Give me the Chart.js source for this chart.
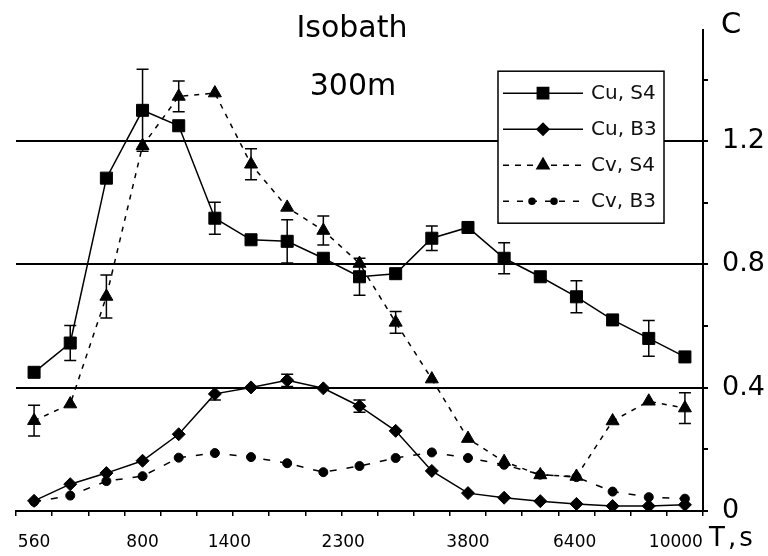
<!DOCTYPE html>
<html>
<head>
<meta charset="utf-8">
<script src="https://cdn.jsdelivr.net/npm/chart.js@4.4.1/dist/chart.umd.min.js"></script>
<style>
  html, body { margin: 0; padding: 0; background: #fff; }
  canvas { display: block; }
</style>
</head>
<body>
<canvas id="isobathChart" width="768" height="556"></canvas>
<script>
// measurement steps along the period axis
const steps = [0, 1, 2, 3, 4, 5, 6, 7, 8, 9, 10, 11, 12, 13, 14, 15, 16, 17, 18];

// period labels (T, s) and the step each one is printed under
const periodLabels = ['560', '800', '1400', '2300', '3800', '6400', '10000'];
const periodLabelAt = [0, 3, 5.4, 8.55, 12, 14.95, 17.75];

// concentration axis
const concTicks = [0, 0.2, 0.4, 0.6, 0.8, 1.0, 1.2, 1.4];
const concLabels = ['0', '0.4', '0.8', '1.2'];

const cuS4 = [0.45, 0.545, 1.08, 1.30, 1.25, 0.95, 0.88, 0.875, 0.82, 0.76, 0.77, 0.885, 0.92, 0.82, 0.76, 0.695, 0.62, 0.56, 0.50];
const cuS4Err = [null, 0.057, null, 0.133, null, 0.052, null, 0.07, null, 0.06, null, 0.04, null, 0.05, null, 0.052, null, 0.058, null];

const cuB3 = [0.033, 0.087, 0.123, 0.163, 0.249, 0.38, 0.401, 0.424, 0.398, 0.34, 0.26, 0.13, 0.058, 0.043, 0.032, 0.023, 0.016, 0.016, 0.02];
const cuB3Err = [null, null, null, null, null, 0.02, null, 0.02, null, 0.02, null, null, null, null, null, null, null, null, null];

const cvS4 = [0.293, 0.347, 0.696, 1.185, 1.345, 1.356, 1.125, 0.985, 0.91, 0.803, 0.612, 0.428, 0.235, 0.16, 0.117, 0.112, 0.292, 0.356, 0.334];
const cvS4Err = [0.05, null, 0.07, null, 0.05, null, 0.05, null, 0.047, null, 0.035, null, null, null, null, null, null, null, 0.05];

const cvB3 = [0.03, 0.05, 0.097, 0.113, 0.173, 0.188, 0.175, 0.155, 0.126, 0.146, 0.172, 0.19, 0.172, 0.15, 0.118, 0.11, 0.063, 0.045, 0.04];

const FONT = "'DejaVu Sans', sans-serif";

function series(values) {
    return steps.map((s, i) => ({ x: s, y: values[i] }));
}

function near(a, b) {
    return Math.abs(a - b) < 1e-6;
}

// vertical error bars with flat caps
const errorBars = {
    id: 'errorBars',
    afterDatasetsDraw(chart) {
        const { ctx } = chart;
        const x = chart.scales.x;
        const y = chart.scales.y;
        ctx.save();
        ctx.strokeStyle = '#000';
        ctx.lineWidth = 1.5;
        chart.data.datasets.forEach(ds => {
            if (!ds.errors) return;
            ds.errors.forEach((e, i) => {
                if (e == null) return;
                const px = x.getPixelForValue(ds.data[i].x);
                const top = y.getPixelForValue(ds.data[i].y + e);
                const bot = y.getPixelForValue(ds.data[i].y - e);
                ctx.beginPath();
                ctx.moveTo(px, top);
                ctx.lineTo(px, bot);
                ctx.moveTo(px - 6, top);
                ctx.lineTo(px + 6, top);
                ctx.moveTo(px - 6, bot);
                ctx.lineTo(px + 6, bot);
                ctx.stroke();
            });
        });
        ctx.restore();
    }
};

// title, axis names and the boxed legend
const decorations = {
    id: 'decorations',
    afterDraw(chart) {
        const { ctx, chartArea } = chart;
        ctx.save();
        ctx.fillStyle = '#000';
        ctx.textBaseline = 'alphabetic';

        ctx.font = `30px ${FONT}`;
        ctx.textAlign = 'center';
        ctx.fillText('Isobath', 352, 37);
        ctx.fillText('300m', 353, 95);

        ctx.textAlign = 'left';
        ctx.font = `29px ${FONT}`;
        ctx.fillText('C', 721, 33);
        ctx.font = `26px ${FONT}`;
        if ('letterSpacing' in ctx) ctx.letterSpacing = '3px';
        ctx.fillText('T,s', 709, 546);
        if ('letterSpacing' in ctx) ctx.letterSpacing = '0px';

        // legend box
        const bx = chartArea.right - 205;
        const by = chartArea.top + 41;
        const bw = 166;
        const bh = 152;
        ctx.fillStyle = '#fff';
        ctx.fillRect(bx, by, bw, bh);
        ctx.strokeStyle = '#000';
        ctx.lineWidth = 1.5;
        ctx.strokeRect(bx, by, bw, bh);

        const drawPoint = Chart.helpers.drawPoint;
        chart.data.datasets.forEach((ds, i) => {
            const cy = by + 22 + i * 36;
            const x0 = bx + 5;
            const x1 = bx + 85;
            const mx = (x0 + x1) / 2;
            ctx.strokeStyle = '#000';
            ctx.fillStyle = '#000';
            ctx.lineWidth = 1.5;
            ctx.setLineDash(ds.legendDash || ds.borderDash || []);
            ctx.beginPath();
            ctx.moveTo(x0, cy);
            ctx.lineTo(x1, cy);
            ctx.stroke();
            ctx.setLineDash([]);
            const marks = ds.legendMarks || [0];
            marks.forEach(dx => {
                drawPoint(ctx, {
                    pointStyle: ds.pointStyle,
                    radius: ds.legendRadius || ds.pointRadius,
                    rotation: 0,
                    borderWidth: 1
                }, mx + dx, cy);
            });
            ctx.fillStyle = '#111';
            ctx.font = `20px ${FONT}`;
            ctx.textAlign = 'left';
            ctx.textBaseline = 'middle';
            ctx.fillText(ds.label, bx + 93, cy + 1);
        });
        ctx.restore();
    }
};

function lineSet(label, values, errors, style, radius, dash) {
    return {
        label: label,
        data: series(values),
        errors: errors,
        borderColor: '#000',
        borderWidth: 1.5,
        borderDash: dash,
        backgroundColor: '#000',
        pointStyle: style,
        pointRadius: radius,
        pointBackgroundColor: '#000',
        pointBorderColor: '#000',
        pointBorderWidth: 1,
        tension: 0,
        fill: false
    };
}

const datasets = [
    lineSet('Cu, S4', cuS4, cuS4Err, 'rect', 8.5, []),
    lineSet('Cu, B3', cuB3, cuB3Err, 'rectRot', 6.5, []),
    lineSet('Cv, S4', cvS4, cvS4Err, 'triangle', 7.5, [5, 6]),
    lineSet('Cv, B3', cvB3, null, 'circle', 4.5, [7, 10])
];
datasets[0].legendRadius = 8;
datasets[1].legendRadius = 6;
datasets[2].legendDash = [6, 6];
datasets[2].legendRadius = 7;
datasets[3].legendDash = [6, 8];
datasets[3].legendMarks = [-11, 11];
datasets[3].legendRadius = 3;

new Chart(document.getElementById('isobathChart'), {
    type: 'line',
    data: { datasets: datasets },
    options: {
        responsive: false,
        animation: false,
        devicePixelRatio: 1,
        layout: { padding: { left: 12, top: 29, right: 0, bottom: 0 } },
        plugins: {
            legend: { display: false },
            tooltip: { enabled: false },
            title: { display: false }
        },
        scales: {
            x: {
                type: 'linear',
                min: -0.5,
                max: 18.5,
                afterBuildTicks(scale) {
                    const vals = [];
                    for (let k = 0; k <= 19; k++) vals.push(-0.5 + k);
                    periodLabelAt.forEach(v => vals.push(v));
                    vals.sort((a, b) => a - b);
                    scale.ticks = vals.map(v => ({ value: v }));
                },
                afterFit(scale) {
                    scale.height = 45;
                },
                border: { display: true, color: '#000', width: 2 },
                grid: {
                    drawOnChartArea: false,
                    drawTicks: true,
                    tickLength: 5,
                    lineWidth: 1.5,
                    tickColor: ctx => (ctx.tick && periodLabelAt.some(v => near(v, ctx.tick.value))) ? 'rgba(0,0,0,0)' : '#000'
                },
                ticks: {
                    autoSkip: false,
                    maxRotation: 0,
                    minRotation: 0,
                    padding: 16,
                    color: '#000',
                    font: { family: FONT, size: 17 },
                    callback(value) {
                        const k = periodLabelAt.findIndex(v => near(v, value));
                        return k >= 0 ? periodLabels[k] : '';
                    }
                }
            },
            y: {
                type: 'linear',
                position: 'right',
                min: 0,
                max: 1.56,
                afterBuildTicks(scale) {
                    scale.ticks = concTicks.map(v => ({ value: v }));
                },
                afterFit(scale) {
                    scale.width = 65;
                },
                border: { display: true, color: '#000', width: 2 },
                grid: {
                    drawTicks: true,
                    tickLength: 5,
                    lineWidth: 2,
                    tickColor: '#000',
                    color: ctx => {
                        const v = ctx.tick ? ctx.tick.value : 0;
                        return (v > 0 && concLabels.includes(String(Math.round(v * 10) / 10))) ? '#000' : 'rgba(0,0,0,0)';
                    }
                },
                ticks: {
                    padding: 14,
                    color: '#000',
                    font: { family: FONT, size: 27 },
                    callback(value) {
                        const s = String(Math.round(value * 10) / 10);
                        return concLabels.includes(s) ? s : '';
                    }
                }
            }
        }
    },
    plugins: [errorBars, decorations]
});
</script>
</body>
</html>
